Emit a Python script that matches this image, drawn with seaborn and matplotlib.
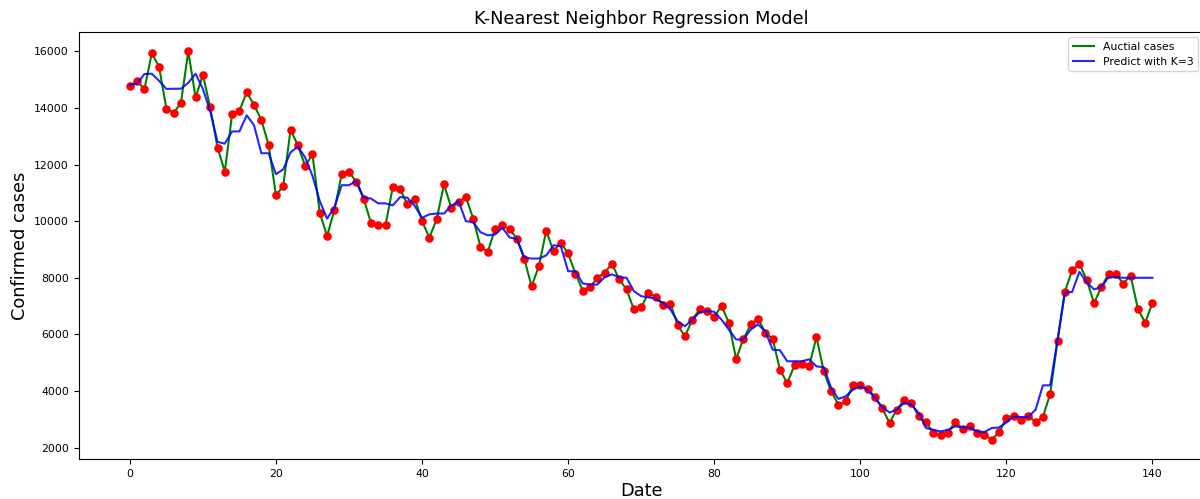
import numpy as np
import pandas as pd
import seaborn as sns
import matplotlib
matplotlib.use("Agg")
import matplotlib.pyplot as plt

# %% data (day index 0..140)
actual = [14780, 14940, 14670, 15930, 15460, 13980, 13820, 14190, 16000, 14370,
          15170, 14020, 12600, 11750, 13780, 13900, 14550, 14110, 13580, 12690,
          10920, 11240, 13230, 12680, 11950, 12360, 10300, 9470, 10390, 11660,
          11750, 11380, 10800, 9950, 9850, 9850, 11210, 11130, 10590, 10800,
          10000, 9420, 10060, 11300, 10480, 10660, 10860, 10090, 9100, 8910,
          9730, 9850, 9730, 9360, 8670, 7700, 8410, 9660, 8940, 9240,
          8860, 8150, 7550, 7670, 8000, 8180, 8500, 7940, 7590, 6880,
          6950, 7470, 7330, 7030, 7090, 6320, 5930, 6520, 6880, 6840,
          6600, 7020, 6410, 5130, 5840, 6350, 6560, 6050, 5850, 4750,
          4280, 4910, 4970, 4880, 5910, 4690, 3990, 3520, 3630, 4200,
          4200, 4080, 3790, 3400, 2870, 3340, 3690, 3580, 3100, 2900,
          2510, 2450, 2510, 2920, 2660, 2750, 2510, 2450, 2280, 2540,
          3040, 3120, 2980, 3120, 2900, 3080, 3900, 5760, 7500, 8260,
          8500, 7920, 7110, 7670, 8140, 8140, 7790, 8080, 6910, 6410,
          7110]

predicted = [14810, 14860, 15200, 15210, 14960, 14670, 14680, 14680, 14890, 15210,
             14670, 13890, 12800, 12740, 13170, 13170, 13740, 13390, 12400, 12400,
             11660, 11830, 12430, 12640, 12250, 11600, 10710, 10090, 10480, 11270,
             11270, 11420, 10830, 10800, 10630, 10630, 10560, 10850, 10830, 10540,
             10120, 10240, 10270, 10270, 10540, 10710, 10000, 9970, 9610, 9500,
             9530, 9770, 9420, 9380, 8710, 8680, 8680, 8790, 9150, 9120,
             8230, 8230, 7800, 7760, 7760, 8020, 8120, 8020, 8000, 7530,
             7350, 7310, 7260, 7110, 6880, 6460, 6290, 6520, 6780, 6820,
             6800, 6520, 6170, 5820, 5820, 6170, 6350, 6110, 5460, 5440,
             5050, 5050, 5050, 5120, 4870, 4840, 4110, 3720, 3810, 4050,
             4160, 4050, 3750, 3430, 3240, 3340, 3580, 3520, 3220, 2690,
             2630, 2570, 2630, 2750, 2710, 2710, 2570, 2550, 2690, 2710,
             2890, 3100, 3080, 3080, 3340, 4200, 4200, 5800, 7470, 7500,
             8210, 7840, 7590, 7670, 8020, 8020, 8000, 8000, 8000, 8000,
             8000]

days = np.arange(len(actual))
df = pd.DataFrame({"day": days, "actual": actual, "predicted": predicted})

# %% plot
fig, ax = plt.subplots(figsize=(12, 4.99), dpi=100)
fig.subplots_adjust(left=0.0656, right=1.003, top=0.936, bottom=0.08)

sns.lineplot(data=df, x="day", y="actual", color="green", linewidth=1.5,
             label="Auctial cases", ax=ax)
sns.scatterplot(data=df, x="day", y="actual", color="red", s=38,
                linewidth=0, zorder=3, ax=ax)
sns.lineplot(data=df, x="day", y="predicted", color="blue", linewidth=1.5,
             alpha=0.85, label="Predict with K=3", ax=ax)
for line in ax.lines[1:]:
    line.set_zorder(4)

ax.set_title("K-Nearest Neighbor Regression Model", fontsize=12.8)
ax.set_xlabel("Date", fontsize=12.8, labelpad=2)
ax.set_ylabel("Confirmed cases", fontsize=12.8)
ax.tick_params(labelsize=7.8)
ax.set_xticks(range(0, 141, 20))
ax.legend(loc="upper right", fontsize=7.8)

plt.savefig("out.png")
